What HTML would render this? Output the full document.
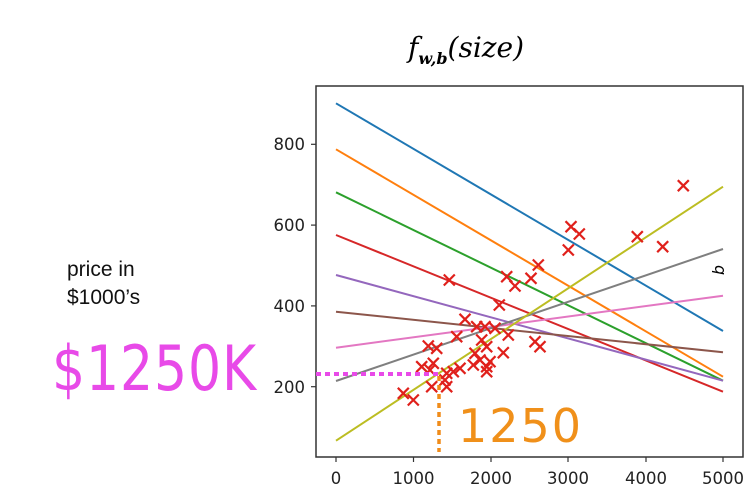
<!DOCTYPE html>
<html><head><meta charset="utf-8"><style>
html,body{margin:0;padding:0;background:#fff;}
svg{display:block;}
</style></head><body>
<svg width="751" height="499" xmlns="http://www.w3.org/2000/svg" font-family="Liberation Sans, sans-serif">
<rect width="751" height="499" fill="#fff"/>
<text x="466" y="57" font-family="DejaVu Serif, serif" font-style="italic" font-size="28" text-anchor="middle">f<tspan font-size="16" dy="7" font-weight="bold">w,b</tspan><tspan dy="-7">(size)</tspan></text>
<g stroke-width="2" fill="none">
<line x1="336" y1="103.3" x2="723" y2="331" stroke="#1f77b4"/>
<line x1="336" y1="149.3" x2="723" y2="376.7" stroke="#ff7f0e"/>
<line x1="336" y1="192.3" x2="723" y2="380.7" stroke="#2ca02c"/>
<line x1="336" y1="235" x2="723" y2="391.7" stroke="#d62728"/>
<line x1="336" y1="275" x2="723" y2="380.7" stroke="#9467bd"/>
<line x1="336" y1="311.7" x2="723" y2="352.3" stroke="#8c564b"/>
<line x1="336" y1="347.7" x2="723" y2="295.7" stroke="#e377c2"/>
<line x1="336" y1="381" x2="723" y2="249" stroke="#7f7f7f"/>
<line x1="336" y1="440.7" x2="723" y2="186.7" stroke="#bcbd22"/>
</g>
<g stroke="#e0201b" stroke-width="2.2" fill="none">
<path d="M677.8 180.2l11 11m-11 0l11-11"/>
<path d="M565.5 221.2l11 11m-11 0l11-11"/>
<path d="M573.8 228.5l11 11m-11 0l11-11"/>
<path d="M562.8 244.5l11 11m-11 0l11-11"/>
<path d="M631.8 231.2l11 11m-11 0l11-11"/>
<path d="M657.2 241.2l11 11m-11 0l11-11"/>
<path d="M532.8 259.5l11 11m-11 0l11-11"/>
<path d="M525.5 272.8l11 11m-11 0l11-11"/>
<path d="M501.2 271.2l11 11m-11 0l11-11"/>
<path d="M509.5 280.5l11 11m-11 0l11-11"/>
<path d="M443.8 274.5l11 11m-11 0l11-11"/>
<path d="M493.8 299.5l11 11m-11 0l11-11"/>
<path d="M459.5 313.8l11 11m-11 0l11-11"/>
<path d="M471.2 321.2l11 11m-11 0l11-11"/>
<path d="M479.5 321.2l11 11m-11 0l11-11"/>
<path d="M489.5 322.8l11 11m-11 0l11-11"/>
<path d="M502.8 329.5l11 11m-11 0l11-11"/>
<path d="M451.2 331.2l11 11m-11 0l11-11"/>
<path d="M529.5 336.2l11 11m-11 0l11-11"/>
<path d="M534.5 341.2l11 11m-11 0l11-11"/>
<path d="M422.8 340.5l11 11m-11 0l11-11"/>
<path d="M431.2 342.8l11 11m-11 0l11-11"/>
<path d="M476.2 334.5l11 11m-11 0l11-11"/>
<path d="M481.2 341.2l11 11m-11 0l11-11"/>
<path d="M497.8 347.2l11 11m-11 0l11-11"/>
<path d="M469.5 347.8l11 11m-11 0l11-11"/>
<path d="M474.5 354.5l11 11m-11 0l11-11"/>
<path d="M484.5 356.2l11 11m-11 0l11-11"/>
<path d="M467.8 359.5l11 11m-11 0l11-11"/>
<path d="M481.2 361.2l11 11m-11 0l11-11"/>
<path d="M427.8 357.8l11 11m-11 0l11-11"/>
<path d="M416.2 361.2l11 11m-11 0l11-11"/>
<path d="M454.5 362.8l11 11m-11 0l11-11"/>
<path d="M447.8 366.2l11 11m-11 0l11-11"/>
<path d="M441.2 367.8l11 11m-11 0l11-11"/>
<path d="M481.2 366.2l11 11m-11 0l11-11"/>
<path d="M426.2 381.2l11 11m-11 0l11-11"/>
<path d="M441.2 381.2l11 11m-11 0l11-11"/>
<path d="M439.5 374.5l11 11m-11 0l11-11"/>
<path d="M397.8 387.8l11 11m-11 0l11-11"/>
<path d="M407.8 394.5l11 11m-11 0l11-11"/>
<path d="M424.5 364.5l11 11m-11 0l11-11"/>
</g>
<rect x="316" y="86" width="427" height="371" fill="none" stroke="#333" stroke-width="1.5"/>
<g stroke="#333" stroke-width="1.2">
<line x1="311" y1="144.3" x2="316" y2="144.3"/><line x1="311" y1="225.1" x2="316" y2="225.1"/><line x1="311" y1="305.9" x2="316" y2="305.9"/><line x1="311" y1="386.7" x2="316" y2="386.7"/>
<line x1="336" y1="457" x2="336" y2="462"/><line x1="413.5" y1="457" x2="413.5" y2="462"/><line x1="491" y1="457" x2="491" y2="462"/><line x1="568" y1="457" x2="568" y2="462"/><line x1="646" y1="457" x2="646" y2="462"/><line x1="723" y1="457" x2="723" y2="462"/>
</g>
<g font-size="16.5" fill="#222" text-anchor="end" font-family="DejaVu Sans, sans-serif">
<text x="305" y="150">800</text><text x="305" y="231">600</text><text x="305" y="312">400</text><text x="305" y="393">200</text>
</g>
<g font-size="16.5" fill="#222" text-anchor="middle" font-family="DejaVu Sans, sans-serif">
<text x="336" y="484">0</text><text x="413.5" y="484">1000</text><text x="491" y="484">2000</text><text x="568" y="484">3000</text><text x="646" y="484">4000</text><text x="723" y="484">5000</text>
</g>
<text x="724" y="270" font-size="16" font-style="italic" transform="rotate(-90 724 270)" text-anchor="middle" font-family="DejaVu Sans, sans-serif">b</text>
<text x="67" y="276" font-size="21" fill="#111">price in</text>
<text x="67" y="304" font-size="21" fill="#111">$1000’s</text>
<line x1="316" y1="374" x2="440" y2="374" stroke="#e84ae8" stroke-width="4" stroke-dasharray="5,4"/>
<line x1="439" y1="376" x2="439" y2="452" stroke="#f08c1a" stroke-width="3.5" stroke-dasharray="5,4"/>
<text x="458" y="442" font-size="46" fill="#f0901a" font-family="DejaVu Sans, sans-serif" letter-spacing="2">1250</text>
<text x="52" y="390" font-size="62" fill="#e84ae8" font-family="DejaVu Sans, sans-serif" letter-spacing="1" textLength="205" lengthAdjust="spacingAndGlyphs">$1250K</text>
</svg>
</body></html>
